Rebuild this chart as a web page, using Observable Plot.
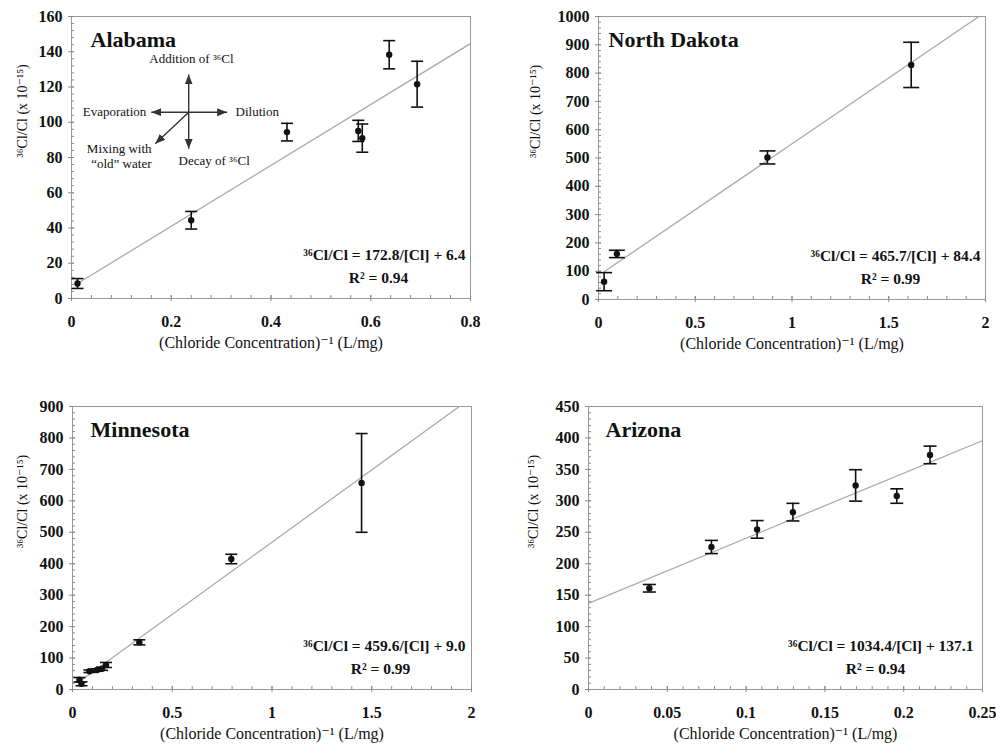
<!DOCTYPE html>
<html><head><meta charset="utf-8">
<script src="https://cdn.jsdelivr.net/npm/d3@7"></script>
<script src="https://cdn.jsdelivr.net/npm/@observablehq/plot@0.6"></script>
<style>
body{margin:0;background:#fff;}
#wrap{position:relative;width:996px;height:744px;overflow:hidden;}
#wrap>div{position:absolute;}
</style></head><body><div id="wrap"></div>
<script>
// ---- data ----
const states = ["Alabama", "North Dakota", "Minnesota", "Arizona"];

const alabamaX   = [0.012, 0.240, 0.432, 0.575, 0.583, 0.637, 0.693];
const alabamaY   = [8.5, 44.4, 94.4, 95.1, 91.0, 138.3, 121.6];
const alabamaErr = [2.8, 5.0, 5.0, 6.0, 8.0, 8.0, 13.0];

const dakotaX   = [0.029, 0.095, 0.873, 1.616];
const dakotaY   = [63, 161, 502, 829];
const dakotaErr = [32, 13, 23, 80];

const minnesotaX   = [0.035, 0.045, 0.085, 0.123, 0.148, 0.168, 0.335, 0.796, 1.449];
const minnesotaY   = [31, 18, 58, 62, 66, 78, 150, 415, 657];
const minnesotaErr = [7, 6, 4, 4, 5, 8, 8, 15, 157];

const arizonaX   = [0.0386, 0.078, 0.107, 0.1297, 0.1695, 0.1956, 0.2167];
const arizonaY   = [161, 226.6, 254.6, 282, 324.5, 307.6, 373];
const arizonaErr = [6, 10.5, 14, 14, 25, 11.5, 14];

// regression fits: slope, intercept, R², fitted x-range
const slopes     = [172.8, 465.7, 459.6, 1034.4];
const intercepts = [6.4, 84.4, 9.0, 137.1];
const r2s        = ["0.94", "0.99", "0.99", "0.94"];
const fitRanges  = [[0.012, 0.8], [0.029, 2], [0.03, 2], [0, 0.25]];

// axes
const xDomains = [[0, 0.8], [0, 2], [0, 2], [0, 0.25]];
const yDomains = [[0, 160], [0, 1000], [0, 900], [0, 450]];
const xTickLabels = [[0, 0.2, 0.4, 0.6, 0.8], [0, 0.5, 1, 1.5, 2], [0, 0.5, 1, 1.5, 2], [0, 0.05, 0.1, 0.15, 0.2, 0.25]];
const yTickLabels = [
  [0, 20, 40, 60, 80, 100, 120, 140, 160],
  [0, 100, 200, 300, 400, 500, 600, 700, 800, 900, 1000],
  [0, 100, 200, 300, 400, 500, 600, 700, 800, 900],
  [0, 50, 100, 150, 200, 250, 300, 350, 400, 450]
];
const minorPerMajor = 5;

const xLabel = "(Chloride Concentration)⁻¹ (L/mg)";
const yLabel = "³⁶Cl/Cl (x 10⁻¹⁵)";

// Alabama conceptual inset (arrows from a common origin)
const insetOrigin = {x: 0.235, y: 105.7};
const insetArrowX = [0.235, 0.235, 0.160, 0.312, 0.168];
const insetArrowY = [127.1, 84.9, 105.7, 105.7, 87.8];
const insetLabels = ["Addition of ³⁶Cl", "Evaporation", "Dilution", "Mixing with\n“old” water", "Decay of ³⁶Cl"];
const insetLabelX = [0.2406, 0.150, 0.329, 0.1604, 0.286];
const insetLabelY = [136.7, 106.1, 106.1, 81.2, 78.3];
const insetAnchors = ["middle", "end", "start", "end", "middle"];

// ---- layout ----
const panels = [
  {x: alabamaX, y: alabamaY, e: alabamaErr, left: 0,   top: 0,   w: 498, h: 362, mL: 71,  mR: 28, mT: 16, mB: 64, titleDx: 19, ylabDx: -49, eqDx: -5, r2Dx: -92, cap: 6, xlabDy: 49},
  {x: dakotaX,  y: dakotaY,  e: dakotaErr,  left: 498, top: 0,   w: 498, h: 362, mL: 100, mR: 11, mT: 16, mB: 63, titleDx: 10, ylabDx: -63, eqDx: -5, r2Dx: -95, cap: 8, xlabDy: 49},
  {x: minnesotaX, y: minnesotaY, e: minnesotaErr, left: 0, top: 390, w: 498, h: 354, mL: 72, mR: 27, mT: 16, mB: 55, titleDx: 18, ylabDx: -50, eqDx: -6, r2Dx: -91, cap: 6, xlabDy: 49},
  {x: arizonaX, y: arizonaY, e: arizonaErr, left: 498, top: 390, w: 498, h: 354, mL: 90,  mR: 14, mT: 16, mB: 55, titleDx: 17, ylabDx: -55, eqDx: -9, r2Dx: -107, cap: 6.5, xlabDy: 49}
];

const FONT = "'Liberation Serif', 'Times New Roman', 'DejaVu Serif', serif";
const INK = "#111";

const capSymbol = {
  draw(ctx, size) { const h = Math.sqrt(size / Math.PI); ctx.moveTo(-h, 0); ctx.lineTo(h, 0); }
};

function filledHead(color) {
  const m = d3.create("svg:marker")
    .attr("viewBox", "-10 -5 10 10").attr("markerWidth", 10).attr("markerHeight", 10)
    .attr("markerUnits", "userSpaceOnUse").attr("orient", "auto")
    .attr("fill", color).attr("stroke", "none");
  m.append("path").attr("d", "M-10,-4L0,0L-10,4Z");
  return m.node();
}

function minorTicks(majors) {
  const out = [];
  for (let i = 0; i < majors.length - 1; i++) {
    const a = majors[i], b = majors[i + 1];
    for (let k = 0; k <= minorPerMajor; k++) out.push(a + (b - a) * k / minorPerMajor);
  }
  return out;
}

const fmt = d => String(+d.toFixed(3));
const wrap = document.getElementById("wrap");

panels.forEach((p, i) => {
  const pts = p.x.map((x, j) => ({x, y: p.y[j], lo: p.y[j] - p.e[j], hi: p.y[j] + p.e[j]}));
  const fit = fitRanges[i].map(x => ({x, y: slopes[i] * x + intercepts[i]}));
  const marks = [
    Plot.frame({stroke: "#9a9a9a"}),
    // ticks: minor inward, major across
    Plot.axisX({ticks: minorTicks(xTickLabels[i]), tickSize: -3, fill: "none", stroke: "#8a8a8a", label: null}),
    Plot.axisY({ticks: minorTicks(yTickLabels[i]), tickSize: -3, fill: "none", stroke: "#8a8a8a", label: null}),
    Plot.axisX({ticks: xTickLabels[i], tickSize: 3, fill: "none", stroke: "#8a8a8a", label: null}),
    Plot.axisY({ticks: yTickLabels[i], tickSize: 3, fill: "none", stroke: "#8a8a8a", label: null}),
    Plot.axisX({ticks: xTickLabels[i], tickSize: 0, tickPadding: 17, tickFormat: fmt, fontSize: 16, fontWeight: "bold", fill: INK, label: null}),
    Plot.axisY({ticks: yTickLabels[i], tickSize: 0, tickPadding: 9, tickFormat: fmt, fontSize: 16, fontWeight: "bold", fill: INK, label: null}),
    // regression line
    Plot.line(fit, {x: "x", y: "y", stroke: "#aaaaaa", strokeWidth: 1.3, clip: true}),
    // error bars
    Plot.ruleX(pts, {x: "x", y1: "lo", y2: "hi", stroke: INK, strokeWidth: 1.6}),
    Plot.dot(pts, {x: "x", y: "hi", symbol: capSymbol, r: p.cap, stroke: INK, strokeWidth: 1.6, fill: "none"}),
    Plot.dot(pts, {x: "x", y: "lo", symbol: capSymbol, r: p.cap, stroke: INK, strokeWidth: 1.6, fill: "none"}),
    Plot.dot(pts, {x: "x", y: "y", r: 3.2, fill: INK}),
    // title
    Plot.text([states[i]], {frameAnchor: "top-left", dx: p.titleDx, dy: 30, lineAnchor: "bottom", textAnchor: "start", fontSize: 22, fontWeight: "bold", fill: INK}),
    // equation and R²
    Plot.text([`³⁶Cl/Cl = ${slopes[i].toFixed(1)}/[Cl] + ${intercepts[i].toFixed(1)}`], {frameAnchor: "bottom-right", dx: p.eqDx, dy: -39, textAnchor: "end", fontSize: 15.5, fontWeight: "bold", fill: INK}),
    Plot.text([`R² = ${r2s[i]}`], {frameAnchor: "bottom-right", dx: p.r2Dx, dy: -16, textAnchor: "middle", fontSize: 15.5, fontWeight: "bold", fill: INK}),
    // axis labels
    Plot.text([xLabel], {frameAnchor: "bottom", dy: p.xlabDy, fontSize: 16, fill: INK}),
    Plot.text([yLabel], {frameAnchor: "left", dx: p.ylabDx, rotate: -90, fontSize: 14, fill: INK})
  ];
  if (i === 0) {
    const arrows = insetArrowX.map((x, j) => ({x1: insetOrigin.x, y1: insetOrigin.y, x2: x, y2: insetArrowY[j]}));
    const labs = insetLabels.map((t, j) => ({t, x: insetLabelX[j], y: insetLabelY[j], a: insetAnchors[j]}));
    marks.push(
      Plot.link(arrows, {x1: "x1", y1: "y1", x2: "x2", y2: "y2", stroke: "#333", strokeWidth: 1.4, markerEnd: filledHead}),
      ...["middle", "start", "end"].map(a =>
        Plot.text(labs.filter(d => d.a === a), {x: "x", y: "y", text: "t", textAnchor: a, fontSize: 13, lineHeight: 1.2, fill: INK}))
    );
  }
  const chart = Plot.plot({
    width: p.w, height: p.h,
    marginLeft: p.mL, marginRight: p.mR, marginTop: p.mT, marginBottom: p.mB,
    style: {fontFamily: FONT, background: "white", color: INK, overflow: "visible"},
    x: {domain: xDomains[i], axis: null},
    y: {domain: yDomains[i], axis: null},
    marks
  });
  const holder = document.createElement("div");
  holder.style.left = p.left + "px";
  holder.style.top = p.top + "px";
  holder.appendChild(chart);
  wrap.appendChild(holder);
});
</script></body></html>
